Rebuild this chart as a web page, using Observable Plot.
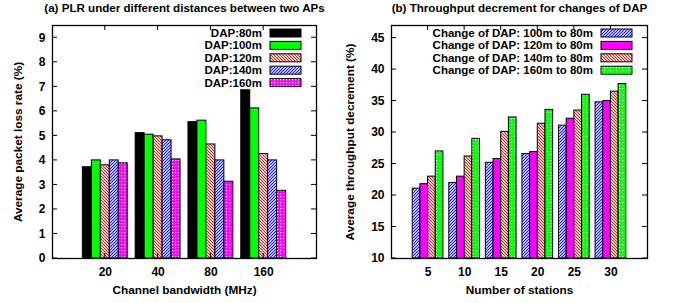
<!DOCTYPE html>
<html>
<head>
<meta charset="utf-8">
<script src="https://cdn.jsdelivr.net/npm/d3@7"></script>
<script src="https://cdn.jsdelivr.net/npm/@observablehq/plot@0.6"></script>
<style>
  html, body { margin: 0; padding: 0; background: #fff; }
  #wrap { display: flex; width: 673px; height: 303px; }
  svg { font-family: "Liberation Sans", Arial, sans-serif; }
</style>
</head>
<body>
<div id="wrap"></div>
<script>
// ---------- Data: panel (a) ----------
const bandwidths = ["20", "40", "80", "160"];
const dapSeries = ["DAP:80m", "DAP:100m", "DAP:120m", "DAP:140m", "DAP:160m"];
const plr80  = [3.72, 5.11, 5.56, 6.86];
const plr100 = [4.00, 5.05, 5.62, 6.12];
const plr120 = [3.80, 4.98, 4.65, 4.26];
const plr140 = [4.00, 4.82, 4.00, 4.00];
const plr160 = [3.88, 4.04, 3.13, 2.76];
const plrTicks = [0, 1, 2, 3, 4, 5, 6, 7, 8, 9];

// ---------- Data: panel (b) ----------
const stations = ["5", "10", "15", "20", "25", "30"];
const changeSeries = ["Change of DAP: 100m to 80m", "Change of DAP: 120m to 80m",
                      "Change of DAP: 140m to 80m", "Change of DAP: 160m to 80m"];
const dec100 = [21.1, 22.0, 25.2, 26.6, 31.1, 34.8];
const dec120 = [21.8, 23.0, 25.8, 26.9, 32.2, 35.0];
const dec140 = [23.0, 26.2, 30.1, 31.4, 33.5, 36.5];
const dec160 = [27.0, 29.0, 32.4, 33.6, 36.0, 37.7];
const decTicks = [10, 15, 20, 25, 30, 35, 40, 45];

// ---------- Patterns ----------
function addPatterns(svg, p) {
  const defs = svg.insert("defs", ":first-child");
  const hatch = (id, color, dir) => {
    const pt = defs.append("pattern").attr("id", p + id).attr("patternUnits", "userSpaceOnUse")
      .attr("width", 3).attr("height", 3);
    pt.append("rect").attr("width", 3).attr("height", 3).attr("fill", "#fff");
    const d = dir === "back" ? "M-1,-1L4,4M-1,2L1,4M2,-1L4,1" : "M-1,4L4,-1M-1,1L1,-1M2,4L4,2";
    pt.append("path").attr("d", d).attr("stroke", color).attr("stroke-width", 1.1);
  };
  const dots = (id, color) => {
    const pt = defs.append("pattern").attr("id", p + id).attr("patternUnits", "userSpaceOnUse")
      .attr("width", 3).attr("height", 3);
    pt.append("rect").attr("width", 3).attr("height", 3).attr("fill", color);
    pt.append("rect").attr("x", 1).attr("y", 1).attr("width", 1.2).attr("height", 1.2).attr("fill", "#fff");
  };
  hatch("brown", "#b0302a", "back");
  hatch("blue", "#1010ff", "fwd");
  dots("mag", "#ff00ff");
  dots("green", "#00ff00");
}

function buildPanel(cfg) {
  const n = cfg.cats.length, m = cfg.series.length;
  const rows = [];
  cfg.values.forEach((vals, s) => vals.forEach((v, i) => rows.push({
    cat: cfg.cats[i], series: cfg.series[s], s, i, value: v,
    x1: i + 1 - cfg.groupW / 2 + s * cfg.groupW / m,
    x2: i + 1 - cfg.groupW / 2 + (s + 1) * cfg.groupW / m
  })));
  const marks = [];
  cfg.series.forEach((name, s) => {
    marks.push(Plot.rectY(rows.filter(r => r.s === s), {
      x1: "x1", x2: "x2", y1: cfg.yDomain[0], y2: "value",
      fill: cfg.fills[s], stroke: "#000", strokeWidth: 1
    }));
  });
  marks.push(Plot.frame({stroke: "#000", strokeWidth: 1.3}));
  marks.push(Plot.axisY(cfg.yTicks, {tickSize: 0, tickPadding: 7, fontSize: 12, fontWeight: "bold",
    label: null}));
  marks.push(Plot.axisX(d3.range(1, n + 1), {tickSize: 0, tickPadding: 9, fontSize: 12, fontWeight: "bold",
    tickFormat: d => cfg.cats[d - 1], label: null}));
  marks.push(Plot.text([cfg.yLabel], {text: d => d, frameAnchor: "left", dx: -cfg.yLabelOffset, rotate: -90,
    textAnchor: "middle", lineAnchor: "top", fontSize: 11.8, fontWeight: "bold"}));
  marks.push(Plot.text([cfg.xLabel], {text: d => d, frameAnchor: "bottom", dy: 35, lineAnchor: "bottom",
    fontSize: 11.8, fontWeight: "bold"}));
  marks.push(Plot.text([cfg.title], {text: d => d, frameAnchor: "top", dy: -14, lineAnchor: "bottom",
    fontSize: 11.6, fontWeight: "bold"}));

  const plot = Plot.plot({
    width: cfg.width, height: 303,
    marginLeft: cfg.ml, marginRight: cfg.mr, marginTop: 25, marginBottom: 45,
    x: {domain: [0, n + 1], axis: null},
    y: {domain: cfg.yDomain, axis: null},
    style: {fontFamily: "Liberation Sans, Arial, sans-serif", fontSize: "12px", fontWeight: "bold", color: "#000", background: "#fff"},
    marks
  });
  const svg = d3.select(plot);
  addPatterns(svg, cfg.prefix);
  svg.selectAll("rect").each(function() {
    const f = this.getAttribute("fill");
    if (f && f.startsWith("url(#P")) this.setAttribute("fill", f.replace("#P", "#" + cfg.prefix));
  });
  svg.selectAll("g[fill^='url(#P']").each(function() {
    this.setAttribute("fill", this.getAttribute("fill").replace("#P", "#" + cfg.prefix));
  });

  // inward mirror ticks
  const xs = plot.scale("x"), ys = plot.scale("y");
  const top = ys.apply(cfg.yDomain[1]), bot = ys.apply(cfg.yDomain[0]);
  const left = xs.apply(0), right = xs.apply(n + 1);
  const g = svg.append("g").attr("stroke", "#000").attr("stroke-width", 1);
  cfg.yTicks.forEach(t => {
    const y = ys.apply(t);
    g.append("line").attr("x1", left).attr("x2", left + 5).attr("y1", y).attr("y2", y);
    g.append("line").attr("x1", right).attr("x2", right - 5).attr("y1", y).attr("y2", y);
  });
  d3.range(1, n + 1).forEach(t => {
    const x = xs.apply(t);
    g.append("line").attr("x1", x).attr("x2", x).attr("y1", bot).attr("y2", bot - 5);
    g.append("line").attr("x1", x).attr("x2", x).attr("y1", top).attr("y2", top + 5);
  });

  // legend (inside frame, top-right)
  const lg = svg.append("g");
  cfg.series.forEach((name, s) => {
    const cy = 33 + s * 12.4;
    lg.append("text").attr("x", right - cfg.legTextGap).attr("y", cy + 4).attr("text-anchor", "end")
      .attr("font-size", 11.5).attr("font-weight", "bold").attr("fill", "#000").text(name);
    lg.append("rect").attr("x", right - 46).attr("y", cy - 4).attr("width", 31).attr("height", 8)
      .attr("fill", cfg.fills[s].replace("#P", "#" + cfg.prefix)).attr("stroke", "#000").attr("stroke-width", 1);
  });
  return plot;
}

const wrap = document.getElementById("wrap");
wrap.appendChild(buildPanel({
  prefix: "a", width: 336, ml: 52, mr: 20,
  cats: bandwidths, series: dapSeries,
  values: [plr80, plr100, plr120, plr140, plr160],
  fills: ["#000000", "#00ff00", "url(#Pbrown)", "url(#Pblue)", "url(#Pmag)"],
  groupW: 0.85, yDomain: [0, 9.5], yTicks: plrTicks,
  yLabel: "Average packet loss rate (%)", yLabelOffset: 39,
  xLabel: "Channel bandwidth (MHz)",
  title: "(a) PLR under different distances between two APs",
  legTextGap: 54
}));
wrap.appendChild(buildPanel({
  prefix: "b", width: 337, ml: 55, mr: 26,
  cats: stations, series: changeSeries,
  values: [dec100, dec120, dec140, dec160],
  fills: ["url(#Pblue)", "#ff00ff", "url(#Pbrown)", "url(#Pgreen)"],
  groupW: 0.84, yDomain: [10, 47], yTicks: decTicks,
  yLabel: "Average throughput decrement (%)", yLabelOffset: 46,
  xLabel: "Number of stations",
  title: "(b) Throughput decrement for changes of DAP",
  legTextGap: 54
}));
</script>
</body>
</html>
